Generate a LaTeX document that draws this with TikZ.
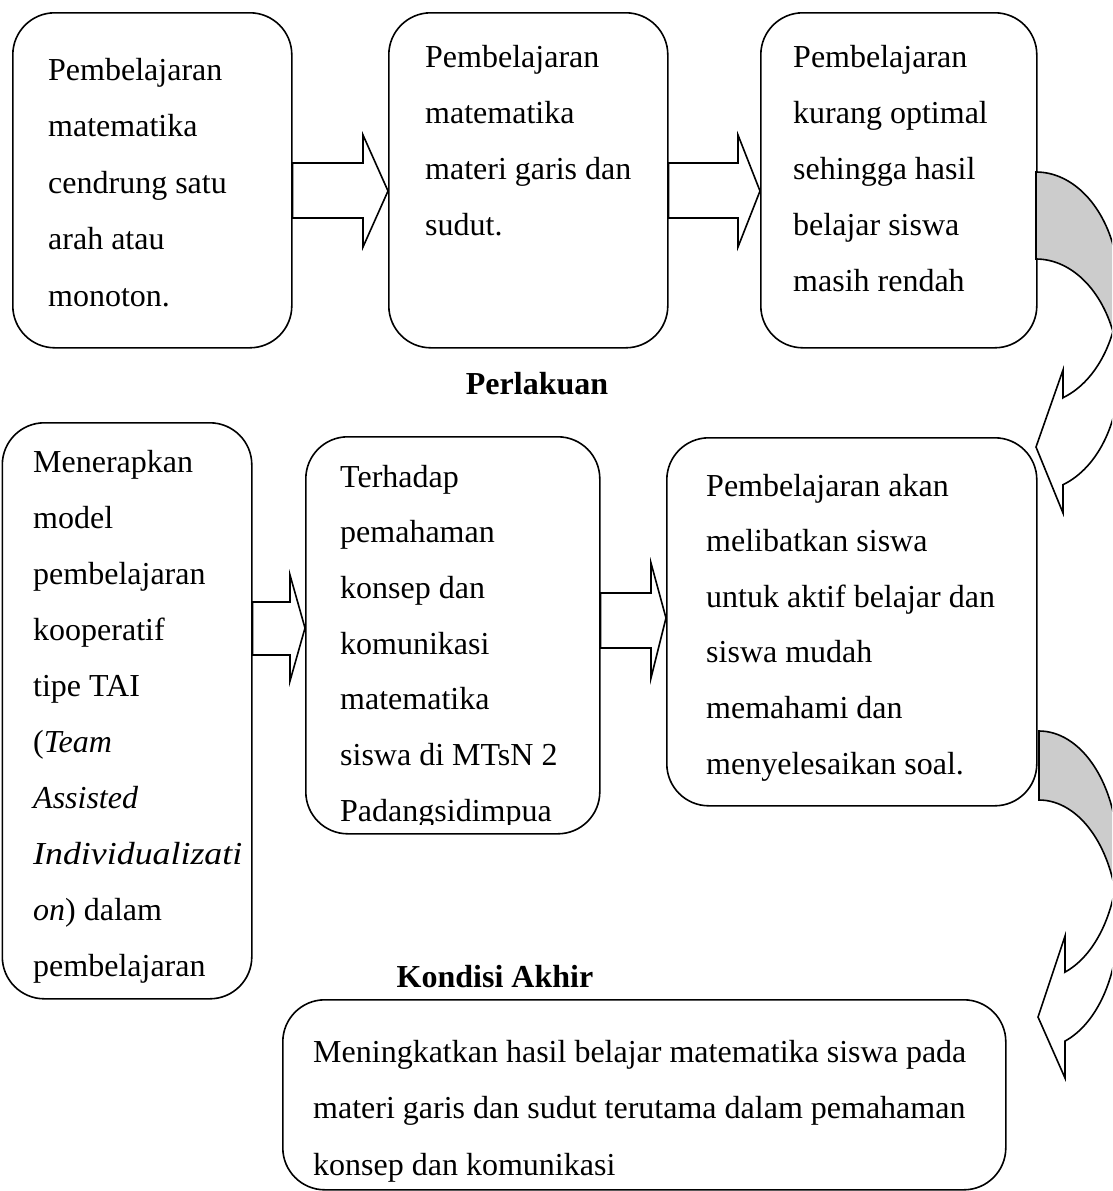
\documentclass[tikz,border=0pt]{standalone}
\usepackage{fontspec}
\setmainfont{Liberation Serif}
\begin{document}
\begin{tikzpicture}[x=1pt,y=-1pt,
  box/.style={draw, line width=1.6pt, rounded corners=42pt, anchor=north west, inner sep=0pt, fill=white},
  txt/.style={anchor=base west, inner sep=0pt, font=\fontsize{32}{40}\selectfont},
  ttl/.style={anchor=base, inner sep=0pt, font=\fontsize{32}{40}\selectfont\bfseries},
  blk/.style={draw, line width=1.6pt, fill=white, line join=miter},
  backpart/.style={draw, line width=1.6pt, fill=black!20, line join=miter},
  frontpart/.style={draw, line width=1.6pt, fill=white, line join=miter}]
\useasboundingbox (0,0) rectangle (1112,1191);
\clip (0,0) rectangle (1112,1191);

% boxes
\node[box, minimum width=279pt, minimum height=335pt] (b1) at (12,12) {};
\node[box, minimum width=279pt, minimum height=335pt] (b2) at (388,12) {};
\node[box, minimum width=276pt, minimum height=335pt] (b3) at (760,12) {};
\node[box, minimum width=249.5pt, minimum height=576pt] (b4) at (1.5,422) {};
\node[box, minimum width=294pt, minimum height=397pt] (b5) at (305,436) {};
\node[box, minimum width=370pt, minimum height=368pt] (b6) at (666,437) {};
\node[box, minimum width=723pt, minimum height=190pt] (b7) at (282,999) {};

% texts
\foreach \t [count=\i from 0] in {Pembelajaran, matematika, cendrung satu, arah atau, monoton.}
  \node[txt] (t1-\i) at (48, {80+56.5*\i}) {\t};
\foreach \t [count=\i from 0] in {Pembelajaran, matematika, materi garis dan, sudut.}
  \node[txt] (t2-\i) at (425, {67+56*\i}) {\t};
\foreach \t [count=\i from 0] in {Pembelajaran, kurang optimal, sehingga hasil, belajar siswa, masih rendah}
  \node[txt] (t3-\i) at (793, {67+56*\i}) {\t};
\foreach \t [count=\i from 0] in {Menerapkan, model, pembelajaran, kooperatif, tipe TAI, {(\textit{Team}}, {\textit{Assisted}}}
  \node[txt] (t4-\i) at (33, {472+56*\i}) {\t};
\node[txt, xscale=1.12, transform shape] (t4-7) at (33, {472+56*7}) {\textit{Individualizati}};
\node[txt] (t4-8) at (33, {472+56*8}) {\textit{on}) dalam};
\node[txt] (t4-9) at (33, {472+56*9}) {pembelajaran};
\begin{scope}
  \clip (b5.north west) rectangle (b5.east |- 0,824);
  \foreach \t [count=\i from 0] in {Terhadap, pemahaman, konsep dan, komunikasi, matematika, siswa di MTsN 2, Padangsidimpua}
    \node[txt] (t5-\i) at (340, {487+55.7*\i}) {\t};
\end{scope}
\foreach \t [count=\i from 0] in {Pembelajaran akan, melibatkan siswa, untuk aktif belajar dan, siswa mudah, memahami dan, menyelesaikan soal.}
  \node[txt] (t6-\i) at (706, {496+55.6*\i}) {\t};
\foreach \t [count=\i from 0] in {Meningkatkan hasil belajar matematika siswa pada, materi garis dan sudut terutama dalam pemahaman, konsep dan komunikasi}
  \node[txt] (t7-\i) at (313, {1062+56.5*\i}) {\t};

\node[ttl] (perlakuan) at (537,394) {Perlakuan};
\node[ttl] (kondisi) at (495,987) {Kondisi Akhir};

% block arrows
\draw[blk] (b1.east |- 0,163) -- (363,163) -- (363,135) -- (b2.west |- 0,191) -- (363,247) -- (363,218) -- (b1.east |- 0,218) -- cycle;
\draw[blk] (b2.east |- 0,163) -- (738,163) -- (738,135) -- (b3.west |- 0,191) -- (738,247) -- (738,218) -- (b2.east |- 0,218) -- cycle;
\draw[blk] (b4.east |- 0,602) -- (290,602) -- (290,575) -- (b5.west |- 0,628) -- (290,681) -- (290,655) -- (b4.east |- 0,655) -- cycle;
\draw[blk] (b5.east |- 0,593) -- (651,593) -- (651,563) -- (b6.west |- 0,618) -- (651,678) -- (651,648) -- (b5.east |- 0,648) -- cycle;

% curved arrow 1
\draw[backpart] plot[domain=-90:0, samples=40] ({1036+83*cos(\x)},{288+116*sin(\x)})
  -- plot[domain=0:-90, samples=40] ({1036+83*cos(\x)},{375+116*sin(\x)}) -- cycle;
\draw[frontpart] (1036,447) -- (1063,370) -- (1063,397.7)
  -- plot[domain=71:22, samples=30] ({1036+83*cos(\x)},{288+116*sin(\x)})
  -- plot[domain=-22:71, samples=40] ({1036+83*cos(\x)},{375+116*sin(\x)})
  -- (1063,513) -- cycle;

% curved arrow 2
\draw[backpart] plot[domain=-90:0, samples=40] ({1039+79*cos(\x)},{855+124*sin(\x)})
  -- plot[domain=0:-90, samples=40] ({1039+79*cos(\x)},{924+124*sin(\x)}) -- cycle;
\draw[frontpart] (1038,1017) -- (1065,936) -- (1065,972)
  -- plot[domain=70.8:16.2, samples=30] ({1039+79*cos(\x)},{855+124*sin(\x)})
  -- plot[domain=-16.2:70.8, samples=40] ({1039+79*cos(\x)},{924+124*sin(\x)})
  -- (1065,1078) -- cycle;
\end{tikzpicture}
\end{document}
